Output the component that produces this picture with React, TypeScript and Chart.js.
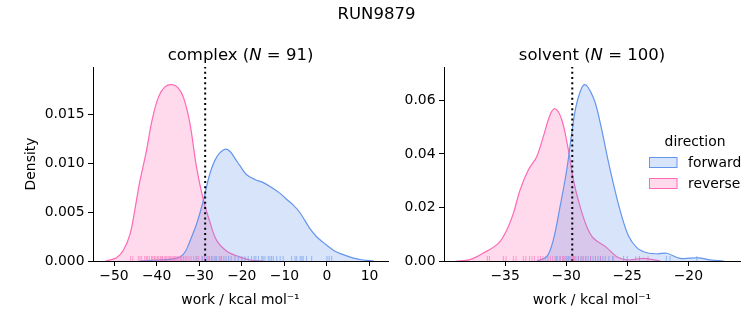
import React, { useEffect, useRef } from 'react';
import { Chart, registerables } from 'chart.js';

Chart.register(...registerables);

// ---------------- data ----------------
const FIG_TITLE = 'RUN9879';
const SERIES_NAMES = ['forward', 'reverse'];
const LEGEND_TITLE = 'direction';
const X_LABEL = 'work / kcal mol\u207B\u00B9';
const Y_LABEL = 'Density';
const COLOR_FORWARD = '100,149,237';
const COLOR_REVERSE = '255,105,180';

// complex panel
const complexName = 'complex';
const complexN = 91;
const complexForwardX = [-44.0, -40.0, -36.5, -34.5, -33.2, -32.2, -30.6, -29.0, -27.5, -25.9, -24.0, -22.8, -21.5, -20.4, -18.85, -16.8, -14.95, -13.0, -11.0, -9.5, -7.9, -6.3, -4.0, -2.5, -0.9, 1.5, 3.5, 6.2, 8.5, 11.0];
const complexForwardY = [0, 0.0001, 0.0002, 0.0004, 0.0010, 0.0020, 0.0038, 0.0062, 0.0089, 0.0106, 0.0114, 0.0112, 0.0104, 0.0097, 0.0088, 0.0083, 0.0080, 0.0075, 0.0069, 0.0063, 0.0057, 0.0049, 0.0033, 0.0025, 0.0019, 0.0011, 0.0007, 0.0003, 0.0001, 0];
const complexReverseX = [-52.0, -49.5, -47.8, -46.2, -45.0, -44.0, -42.5, -41.0, -39.5, -38.0, -36.4, -35.0, -33.7, -32.2, -30.6, -29.0, -27.5, -25.9, -23.5, -20.4, -18.0, -15.0];
const complexReverseY = [0, 0.0003, 0.0011, 0.0028, 0.0055, 0.0080, 0.0110, 0.0145, 0.0168, 0.0178, 0.0180, 0.0177, 0.0167, 0.0141, 0.0095, 0.0062, 0.0040, 0.0021, 0.0010, 0.0004, 0.0001, 0];
const complexForwardRug = [-30.5, -29.2, -28.7, -28.2, -27.6, -27.0, -26.5, -25.9, -25.3, -24.8, -24.2, -23.7, -23.1, -22.5, -21.6, -20.8, -20.0, -19.25, -18.5, -17.7, -17.1, -16.7, -16.1, -15.3, -15.0, -14.55, -13.8, -13.4, -13.0, -12.6, -11.8, -11.0, -10.3, -8.3, -7.5, -7.1, -6.3, -5.9, -5.6, -4.8, -3.6, 0.0, 0.5, 1.1];
const complexReverseRug = [-46.1, -45.6, -44.3, -43.9, -43.5, -42.8, -42.4, -42.1, -41.7, -41.2, -40.9, -40.5, -40.2, -39.8, -39.5, -39.1, -38.8, -38.6, -38.2, -37.9, -37.6, -37.3, -37.0, -36.7, -36.4, -36.1, -35.8, -35.5, -35.2, -34.8, -34.4, -34.1, -33.7, -33.3, -32.9, -32.4, -31.9, -31.3, -30.8, -30.1, -29.4, -28.8, -27.9, -27.1, -26.2, -24.9];
const complexVLine = -28.6;
const complexXTicks = [-50, -40, -30, -20, -10, 0, 10];
const complexYTicks = [0, 0.005, 0.01, 0.015];
const complexXRange = [-54.93, 14.32];
const complexYRange = [0, 0.0198];

// solvent panel
const solventName = 'solvent';
const solventN = 100;
const solventForwardX = [-32.4, -31.59, -31.05, -30.5, -29.95, -29.54, -29.13, -28.51, -27.77, -27.23, -26.54, -26.14, -25.59, -24.91, -24.22, -23.4, -22.5, -21.77, -20.68, -19.18, -18.22, -17.1];
const solventForwardY = [0, 0.0016, 0.0079, 0.0203, 0.0341, 0.0478, 0.059, 0.0659, 0.061, 0.052, 0.037, 0.029, 0.019, 0.0095, 0.005, 0.0031, 0.0027, 0.0029, 0.001, 0.0012, 0.0004, 0];
const solventReverseX = [-39.0, -37.9, -36.8, -35.55, -34.86, -34.32, -33.77, -33.09, -32.41, -31.87, -31.32, -30.91, -30.36, -29.82, -29.41, -28.86, -28.31, -27.77, -26.68, -25.86, -25.04, -24.3, -23.68, -23.0, -22.3];
const solventReverseY = [0, 0.0005, 0.0029, 0.0066, 0.0116, 0.0179, 0.0266, 0.0341, 0.039, 0.0465, 0.0546, 0.0569, 0.0528, 0.0415, 0.0303, 0.0203, 0.0128, 0.0085, 0.005, 0.0016, 0.0004, 0.0007, 0.001, 0.0006, 0];
const solventForwardRug = [-30.8, -30.5, -30.2, -30.0, -29.8, -29.6, -29.4, -29.2, -29.0, -28.8, -28.6, -28.4, -28.2, -28.0, -27.8, -27.6, -27.4, -27.2, -27.0, -26.8, -26.5, -26.2, -25.3, -25.0, -24.0, -21.8, -21.5, -19.3];
const solventReverseRug = [-36.45, -36.28, -35.14, -34.92, -34.32, -34.1, -33.5, -33.3, -33.0, -32.8, -32.6, -32.3, -32.1, -31.9, -31.7, -31.5, -31.3, -31.1, -30.9, -30.7, -30.5, -30.3, -30.1, -29.9, -29.7, -29.5, -29.3, -29.0, -28.7, -28.4, -28.0, -27.2, -26.1, -24.3, -23.3];
const solventVLine = -29.5;
const solventXTicks = [-35, -30, -25, -20];
const solventYTicks = [0, 0.02, 0.04, 0.06];
const solventXRange = [-40.0, -15.77];
const solventYRange = [0, 0.0725];

// ---------------- helpers ----------------
const W = 753;
const H = 325;
const FONT = '"DejaVu Sans", "Liberation Sans", sans-serif';

const pts = (xs: number[], ys: number[]) => xs.map((x, i) => ({ x, y: ys[i] }));
const fmtX = (v: number) => (v < 0 ? '\u2212' + Math.abs(v) : String(v));

function kdeDataset(label: string, rgb: string, xs: number[], ys: number[]) {
  return {
    label,
    data: pts(xs, ys),
    borderColor: `rgb(${rgb})`,
    backgroundColor: `rgba(${rgb},0.25)`,
    borderWidth: 1.2,
    fill: 'origin',
    pointRadius: 0,
    tension: 0.35,
  };
}

function makeDecor(cfg: any) {
  return {
    id: 'decor',
    afterDatasetsDraw(chart: any) {
      const ctx = chart.ctx;
      const xs = chart.scales.x;
      const area = chart.chartArea;
      cfg.rugs.forEach((r: any) => {
        ctx.save();
        ctx.strokeStyle = `rgba(${r.rgb},0.6)`;
        ctx.lineWidth = 1;
        r.values.forEach((v: number) => {
          const px = xs.getPixelForValue(v);
          ctx.beginPath();
          ctx.moveTo(px, area.bottom);
          ctx.lineTo(px, area.bottom - 5);
          ctx.stroke();
        });
        ctx.restore();
      });
    },
    afterDraw(chart: any) {
      const ctx = chart.ctx;
      const area = chart.chartArea;
      ctx.save();
      ctx.fillStyle = '#000';
      ctx.textBaseline = 'alphabetic';
      // panel title with italic N
      const size = 16.5;
      const parts = [
        { t: cfg.name + ' (', it: false },
        { t: 'N', it: true },
        { t: ' = ' + cfg.n + ')', it: false },
      ];
      let total = 0;
      parts.forEach((p) => {
        ctx.font = `${p.it ? 'italic ' : ''}${size}px ${FONT}`;
        total += ctx.measureText(p.t).width;
      });
      let x = (area.left + area.right) / 2 - total / 2;
      ctx.textAlign = 'left';
      parts.forEach((p) => {
        ctx.font = `${p.it ? 'italic ' : ''}${size}px ${FONT}`;
        ctx.fillText(p.t, x, 60);
        x += ctx.measureText(p.t).width;
      });
      if (cfg.suptitle) {
        ctx.font = `16.5px ${FONT}`;
        ctx.textAlign = 'center';
        ctx.fillText(cfg.suptitle, W / 2, 19);
      }
      if (cfg.legend) {
        ctx.font = `13.9px ${FONT}`;
        ctx.textAlign = 'center';
        ctx.fillText(LEGEND_TITLE, 695, 145.5);
        ctx.textAlign = 'left';
        const items = chart.data.datasets.filter((d: any) => SERIES_NAMES.includes(d.label));
        const order = SERIES_NAMES.map((n) => items.find((d: any) => d.label === n));
        order.forEach((d: any, i: number) => {
          const y0 = 157.5 + i * 21;
          ctx.fillStyle = d.backgroundColor;
          ctx.fillRect(649.5, y0, 27.5, 10);
          ctx.strokeStyle = d.borderColor;
          ctx.lineWidth = 1;
          ctx.strokeRect(649.5, y0, 27.5, 10);
          ctx.fillStyle = '#000';
          ctx.fillText(d.label, 688, y0 + 9);
        });
      }
      ctx.restore();
    },
  };
}

function buildConfig(p: any) {
  return {
    type: 'line',
    data: {
      datasets: [
        {
          label: 'vline',
          data: [
            { x: p.vline, y: p.yRange[0] },
            { x: p.vline, y: p.yRange[1] },
          ],
          borderColor: '#000',
          borderWidth: 2,
          borderDash: [2, 3.2],
          pointRadius: 0,
          fill: false,
          tension: 0,
        },
        kdeDataset(SERIES_NAMES[0], COLOR_FORWARD, p.fx, p.fy),
        kdeDataset(SERIES_NAMES[1], COLOR_REVERSE, p.rx, p.ry),
      ],
    },
    options: {
      responsive: false,
      animation: false,
      devicePixelRatio: 1,
      events: [],
      layout: { padding: { left: p.padLeft, right: p.padRight, top: 67, bottom: 0 } },
      plugins: { legend: { display: false }, tooltip: { enabled: false }, title: { display: false } },
      scales: {
        x: {
          type: 'linear',
          min: p.xRange[0],
          max: p.xRange[1],
          afterBuildTicks: (s: any) => {
            s.ticks = p.xTicks.map((v: number) => ({ value: v }));
          },
          afterFit: (s: any) => {
            s.height = 64;
          },
          ticks: {
            callback: (v: number) => fmtX(v),
            autoSkip: false,
            maxRotation: 0,
            padding: 2,
            color: '#000',
            font: { family: FONT, size: 13.9 },
          },
          grid: { display: true, drawOnChartArea: false, drawTicks: true, tickLength: 5, tickWidth: 1, color: '#000' },
          border: { display: true, color: '#000', width: 1 },
          title: {
            display: true,
            text: X_LABEL,
            color: '#000',
            font: { family: FONT, size: 13.9 },
            padding: { top: 0, bottom: 16.5 },
          },
        },
        y: {
          type: 'linear',
          min: p.yRange[0],
          max: p.yRange[1],
          afterBuildTicks: (s: any) => {
            s.ticks = p.yTicks.map((v: number) => ({ value: v }));
          },
          afterFit: (s: any) => {
            s.width = p.yWidth;
          },
          ticks: {
            callback: (v: number) => v.toFixed(p.yDigits),
            autoSkip: false,
            padding: 3.5,
            color: '#000',
            font: { family: FONT, size: 13.9 },
          },
          grid: { display: true, drawOnChartArea: false, drawTicks: true, tickLength: 5, tickWidth: 1, color: '#000' },
          border: { display: true, color: '#000', width: 1 },
          title: {
            display: !!p.yLabel,
            text: p.yLabel || '',
            color: '#000',
            font: { family: FONT, size: 13.9 },
            padding: { top: 22.6, bottom: 0 },
          },
        },
      },
    },
    plugins: [
      makeDecor({
        name: p.name,
        n: p.n,
        suptitle: p.suptitle,
        legend: p.legend,
        rugs: [
          { values: p.fRug, rgb: COLOR_FORWARD },
          { values: p.rRug, rgb: COLOR_REVERSE },
        ],
      }),
    ],
  };
}

export default function App() {
  const refA = useRef<HTMLCanvasElement>(null);
  const refB = useRef<HTMLCanvasElement>(null);

  useEffect(() => {
    const a = new Chart(
      refA.current as any,
      buildConfig({
        name: complexName,
        n: complexN,
        suptitle: FIG_TITLE,
        legend: false,
        fx: complexForwardX,
        fy: complexForwardY,
        rx: complexReverseX,
        ry: complexReverseY,
        fRug: complexForwardRug,
        rRug: complexReverseRug,
        vline: complexVLine,
        xTicks: complexXTicks,
        yTicks: complexYTicks,
        xRange: complexXRange,
        yRange: complexYRange,
        yDigits: 3,
        yLabel: Y_LABEL,
        padLeft: 0,
        yWidth: 93,
        padRight: W - 388,
      }) as any
    );
    const b = new Chart(
      refB.current as any,
      buildConfig({
        name: solventName,
        n: solventN,
        suptitle: '',
        legend: true,
        fx: solventForwardX,
        fy: solventForwardY,
        rx: solventReverseX,
        ry: solventReverseY,
        fRug: solventForwardRug,
        rRug: solventReverseRug,
        vline: solventVLine,
        xTicks: solventXTicks,
        yTicks: solventYTicks,
        xRange: solventXRange,
        yRange: solventYRange,
        yDigits: 2,
        yLabel: '',
        padLeft: 391,
        yWidth: 53,
        padRight: W - 740,
      }) as any
    );
    return () => {
      a.destroy();
      b.destroy();
    };
  }, []);

  const cs: React.CSSProperties = { position: 'absolute', left: 0, top: 0 };
  return (
    <div style={{ position: 'fixed', left: 0, top: 0, width: W, height: H, background: '#fff' }}>
      <canvas ref={refA} width={W} height={H} style={cs} />
      <canvas ref={refB} width={W} height={H} style={cs} />
    </div>
  );
}
